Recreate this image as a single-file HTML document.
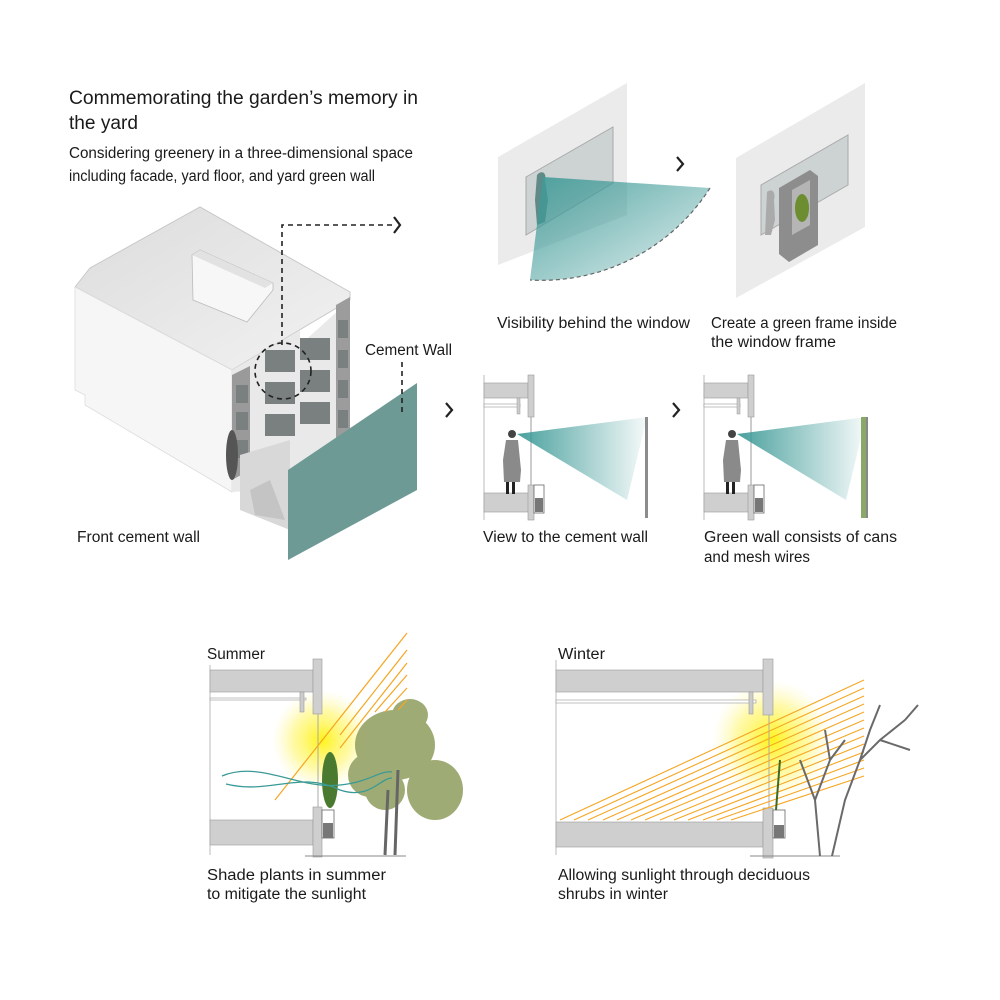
<!DOCTYPE html>
<html><head><meta charset="utf-8"><style>
html,body{margin:0;padding:0;background:#fff}
svg{display:block}
text{font-family:"Liberation Sans",sans-serif;fill:#1a1a1a}
</style></head><body>
<svg width="1000" height="1000" viewBox="0 0 1000 1000" xmlns="http://www.w3.org/2000/svg">
<defs>
<linearGradient id="cone" x1="0" y1="0" x2="1" y2="0">
<stop offset="0" stop-color="#3f9b98" stop-opacity="0.95"/><stop offset="1" stop-color="#3f9b98" stop-opacity="0.05"/></linearGradient>
<linearGradient id="cone2" x1="0" y1="0" x2="1" y2="1">
<stop offset="0" stop-color="#3f9b98" stop-opacity="0.9"/><stop offset="1" stop-color="#3f9b98" stop-opacity="0.15"/></linearGradient>
<radialGradient id="sun"><stop offset="0" stop-color="#fff200" stop-opacity="0.9"/><stop offset="0.6" stop-color="#fff455" stop-opacity="0.5"/><stop offset="1" stop-color="#fff8a0" stop-opacity="0"/></radialGradient>
<linearGradient id="roof" x1="0" y1="0" x2="1" y2="1"><stop offset="0" stop-color="#dcdcdc"/><stop offset="1" stop-color="#f2f2f2"/></linearGradient>
</defs>

<text x="69" y="104" font-size="19" textLength="349" lengthAdjust="spacingAndGlyphs">Commemorating the garden’s memory in</text>
<text x="69" y="129" font-size="19" textLength="69" lengthAdjust="spacingAndGlyphs">the yard</text>
<text x="69" y="158" font-size="15.5" textLength="344" lengthAdjust="spacingAndGlyphs">Considering greenery in a three-dimensional space</text>
<text x="69" y="181" font-size="15.5" textLength="306" lengthAdjust="spacingAndGlyphs">including facade, yard floor, and yard green wall</text>

<!-- Building -->
<polygon points="75,287 90,268 200,207 350,292 350,300 232,370" fill="url(#roof)" stroke="#c8c8c8" stroke-width="1"/>
<polygon points="75,287 232,370 232,492 85,405 85,395 75,390" fill="#f6f6f6" stroke="#ddd" stroke-width="0.8"/>
<polygon points="232,370 300,330 300,345 350,300 350,470 310,480 290,470 262,490 232,492" fill="#e9e9e9"/>
<polygon points="232,375 250,366 250,470 232,480" fill="#9a9a9a"/>
<polygon points="336,305 350,297 350,470 336,475" fill="#9c9c9c"/>
<g fill="#7a7f80">
<rect x="265" y="350" width="30" height="22"/><rect x="300" y="338" width="30" height="22"/>
<rect x="265" y="382" width="30" height="22"/><rect x="300" y="370" width="30" height="22"/>
<rect x="265" y="414" width="30" height="22"/><rect x="300" y="402" width="30" height="22"/>
<rect x="236" y="385" width="12" height="18"/><rect x="236" y="412" width="12" height="18"/><rect x="236" y="440" width="12" height="18"/>
<rect x="338" y="320" width="10" height="18"/><rect x="338" y="350" width="10" height="18"/><rect x="338" y="380" width="10" height="18"/><rect x="338" y="410" width="10" height="18"/><rect x="338" y="440" width="10" height="18"/>
</g>
<polygon points="192,255 200,250 273,283 273,290 247,322 193,300" fill="#f7f7f7" stroke="#bbb" stroke-width="0.8"/>
<polygon points="192,255 200,250 273,283 265,288" fill="#e2e2e2"/>
<polygon points="240,455 290,440 290,530 240,510" fill="#d8d8d8"/>
<polygon points="250,490 270,480 285,520 255,515" fill="#c4c4c4"/>
<ellipse cx="232" cy="455" rx="6" ry="25" fill="#555"/>
<polygon points="288,470 417,383 417,490 288,560" fill="#6e9a96"/>
<path d="M282,345 V225 H392" fill="none" stroke="#222" stroke-width="1.6" stroke-dasharray="5,4"/>
<path d="M394,217 L400,225 L394,233" fill="none" stroke="#222" stroke-width="2.2"/>
<circle cx="283" cy="371" r="28" fill="none" stroke="#222" stroke-width="1.6" stroke-dasharray="5,4"/>
<path d="M402,362 V412" stroke="#222" stroke-width="1.6" stroke-dasharray="5,4"/>
<text x="365" y="355" font-size="15.5" textLength="87" lengthAdjust="spacingAndGlyphs">Cement Wall</text>
<text x="77" y="542" font-size="15.5" textLength="123" lengthAdjust="spacingAndGlyphs">Front cement wall</text>

<!-- Top right panel 1 -->
<polygon points="498,157 627,83 627,215 498,265" fill="#ebebeb"/>
<polygon points="526,177 613,127 613,183 526,235" fill="#cdd2d3" stroke="#aaa"/>
<path d="M537,175 C541,170 547,172 545,180 L548,200 L545,222 L537,225 L535,200 Z" fill="#5f8a88"/>
<path d="M543,177 L710,188 A200,200 0 0 1 530,280 Z" fill="url(#cone2)"/>
<path d="M710,188 A200,200 0 0 1 530,280" fill="none" stroke="#666" stroke-width="1.2" stroke-dasharray="4,3"/>
<path d="M677,157 L683,164 L677,171" fill="none" stroke="#222" stroke-width="2.2"/>
<polygon points="736,158 865,83 865,227 736,298" fill="#ebebeb"/>
<polygon points="761,185 848,135 848,185 761,235" fill="#cdd2d3" stroke="#aaa"/>
<path d="M767,192 C772,188 776,192 774,200 L775,220 L771,235 L765,235 Z" fill="#aaa"/>
<polygon points="779,188 810,170 818,176 818,245 789,262 779,254" fill="#8d8d8d"/>
<polygon points="792,190 810,180 810,225 792,235" fill="#b5b5b5"/>
<ellipse cx="802" cy="208" rx="7" ry="14" fill="#6c8e30"/>
<text x="497" y="328" font-size="15.5" textLength="193" lengthAdjust="spacingAndGlyphs">Visibility behind the window</text>
<text x="711" y="328" font-size="15.5" textLength="186" lengthAdjust="spacingAndGlyphs">Create a green frame inside</text>
<text x="711" y="347" font-size="15.5" textLength="125" lengthAdjust="spacingAndGlyphs">the window frame</text>

<!-- middle sections -->
<g id="sec">
<line x1="484" y1="375" x2="484" y2="520" stroke="#bbb"/>
<rect x="484" y="383" width="44" height="15" fill="#cfcfcf" stroke="#999" stroke-width="0.6"/>
<rect x="484" y="404" width="36" height="3" fill="#fff" stroke="#999" stroke-width="0.6"/>
<rect x="517" y="398" width="3" height="16" fill="#ccc" stroke="#999" stroke-width="0.5"/>
<rect x="528" y="375" width="6" height="42" fill="#cfcfcf" stroke="#999" stroke-width="0.6"/>
<line x1="531" y1="417" x2="531" y2="485" stroke="#999"/>
<rect x="484" y="493" width="49" height="19" fill="#cfcfcf" stroke="#999" stroke-width="0.6"/>
<rect x="528" y="485" width="6" height="35" fill="#cfcfcf" stroke="#999" stroke-width="0.6"/>
<rect x="534" y="485" width="10" height="28" fill="#fff" stroke="#666" stroke-width="0.8"/>
<rect x="535" y="498" width="8" height="14" fill="#777"/>
<circle cx="512" cy="434" r="4" fill="#444"/>
<path d="M506,440 L518,440 L521,470 L520,482 L504,482 L503,460 Z" fill="#8a8a8a"/>
<rect x="506" y="482" width="3" height="12" fill="#222"/><rect x="512" y="482" width="3" height="12" fill="#222"/>
</g>
<path d="M517,434 L647,417 L627,500 Z" fill="url(#cone)"/>
<rect x="645" y="417" width="3" height="101" fill="#8c8c8c"/>
<path d="M446,403 L452,410 L446,417" fill="none" stroke="#222" stroke-width="2.2"/>
<use href="#sec" x="220"/>
<path d="M737,434 L866,417 L846,500 Z" fill="url(#cone)"/>
<rect x="861" y="417" width="5" height="101" fill="#8aa869"/>
<rect x="866" y="417" width="2" height="101" fill="#888"/>
<path d="M673,403 L679,410 L673,417" fill="none" stroke="#222" stroke-width="2.2"/>
<text x="483" y="542" font-size="15.5" textLength="165" lengthAdjust="spacingAndGlyphs">View to the cement wall</text>
<text x="704" y="542" font-size="15.5" textLength="193" lengthAdjust="spacingAndGlyphs">Green wall consists of cans</text>
<text x="704" y="562" font-size="15.5" textLength="106" lengthAdjust="spacingAndGlyphs">and mesh wires</text>

<!-- Summer -->
<text x="207" y="659" font-size="15.5" textLength="58" lengthAdjust="spacingAndGlyphs">Summer</text>
<circle cx="322" cy="740" r="50" fill="url(#sun)"/>
<line x1="210" y1="665" x2="210" y2="855" stroke="#bbb"/>
<rect x="210" y="670" width="103" height="22" fill="#cfcfcf" stroke="#999" stroke-width="0.6"/>
<rect x="210" y="698" width="96" height="2" fill="#fff" stroke="#999" stroke-width="0.6"/>
<rect x="300" y="692" width="4" height="20" fill="#ccc" stroke="#999" stroke-width="0.6"/>
<rect x="313" y="659" width="9" height="55" fill="#cfcfcf" stroke="#999" stroke-width="0.6"/>
<line x1="318" y1="714" x2="318" y2="807" stroke="#aaa"/>
<rect x="210" y="820" width="103" height="25" fill="#cfcfcf" stroke="#999" stroke-width="0.6"/>
<rect x="313" y="807" width="9" height="50" fill="#cfcfcf" stroke="#999" stroke-width="0.6"/>
<rect x="322" y="810" width="12" height="28" fill="#fff" stroke="#666" stroke-width="0.8"/>
<rect x="323" y="823" width="10" height="15" fill="#777"/>
<path d="M305,856 H406" stroke="#888"/>
<ellipse cx="330" cy="780" rx="8" ry="28" fill="#4a7a30"/>
<g fill="#8f9d5e" opacity="0.85">
<ellipse cx="395" cy="745" rx="40" ry="35"/><ellipse cx="435" cy="790" rx="28" ry="30"/><ellipse cx="370" cy="775" rx="22" ry="22"/><ellipse cx="410" cy="715" rx="18" ry="16"/><ellipse cx="385" cy="790" rx="20" ry="20"/>
</g>
<path d="M385,855 L388,790 M395,855 L398,770" stroke="#666" stroke-width="3"/>
<g stroke="#f5a623" stroke-width="1.2" fill="none">
<line x1="407" y1="633" x2="275" y2="800"/><line x1="407" y1="650" x2="340" y2="735"/><line x1="407" y1="663" x2="340" y2="748"/>
<line x1="407" y1="675" x2="375" y2="712"/><line x1="407" y1="688" x2="385" y2="712"/><line x1="407" y1="700" x2="398" y2="710"/>
</g>
<path d="M222,776 C260,760 300,790 340,785 C370,782 380,770 392,772" stroke="#3a9a96" stroke-width="1.3" fill="none"/>
<path d="M226,784 C270,795 300,770 340,790 C370,800 380,778 392,778" stroke="#3a9a96" stroke-width="1.3" fill="none"/>
<text x="207" y="880" font-size="15.5" textLength="179" lengthAdjust="spacingAndGlyphs">Shade plants in summer</text>
<text x="207" y="899" font-size="15.5" textLength="159" lengthAdjust="spacingAndGlyphs">to mitigate the sunlight</text>

<!-- Winter -->
<text x="558" y="659" font-size="15.5" textLength="47" lengthAdjust="spacingAndGlyphs">Winter</text>
<circle cx="772" cy="740" r="60" fill="url(#sun)"/>
<line x1="556" y1="660" x2="556" y2="855" stroke="#bbb"/>
<rect x="556" y="670" width="207" height="22" fill="#cfcfcf" stroke="#999" stroke-width="0.6"/>
<rect x="556" y="700" width="200" height="3" fill="#fff" stroke="#999" stroke-width="0.6"/>
<rect x="749" y="692" width="4" height="22" fill="#ccc" stroke="#999" stroke-width="0.6"/>
<rect x="763" y="659" width="10" height="56" fill="#cfcfcf" stroke="#999" stroke-width="0.6"/>
<line x1="769" y1="715" x2="769" y2="807" stroke="#aaa"/>
<rect x="556" y="822" width="207" height="25" fill="#cfcfcf" stroke="#999" stroke-width="0.6"/>
<rect x="763" y="808" width="10" height="50" fill="#cfcfcf" stroke="#999" stroke-width="0.6"/>
<rect x="773" y="810" width="12" height="28" fill="#fff" stroke="#666" stroke-width="0.8"/>
<rect x="774" y="825" width="10" height="13" fill="#777"/>
<path d="M750,856 H840" stroke="#888"/>
<g stroke="#f5a623" stroke-width="1.1">
<line x1="864" y1="680" x2="560" y2="820"/><line x1="864" y1="688" x2="574" y2="820"/><line x1="864" y1="696" x2="588" y2="820"/><line x1="864" y1="704" x2="603" y2="820"/><line x1="864" y1="712" x2="617" y2="820"/><line x1="864" y1="720" x2="631" y2="820"/><line x1="864" y1="728" x2="645" y2="820"/><line x1="864" y1="736" x2="660" y2="820"/><line x1="864" y1="744" x2="674" y2="820"/><line x1="864" y1="752" x2="688" y2="820"/><line x1="864" y1="760" x2="703" y2="820"/><line x1="864" y1="768" x2="717" y2="820"/><line x1="864" y1="776" x2="731" y2="820"/>
</g>
<g stroke="#6a6a6a" stroke-width="2" fill="none">
<path d="M820,856 L815,800 L800,760 M815,800 L830,760 L825,730 M830,760 L845,740"/>
<path d="M832,856 L845,800 L860,760 L880,740 L905,720 M860,760 L870,730 L880,705 M880,740 L910,750 M905,720 L918,705"/>
</g>
<path d="M776,810 L780,760" stroke="#3d6a25" stroke-width="2"/>
<text x="558" y="880" font-size="15.5" textLength="252" lengthAdjust="spacingAndGlyphs">Allowing sunlight through deciduous</text>
<text x="558" y="899" font-size="15.5" textLength="110" lengthAdjust="spacingAndGlyphs">shrubs in winter</text>
</svg>
</body></html>
